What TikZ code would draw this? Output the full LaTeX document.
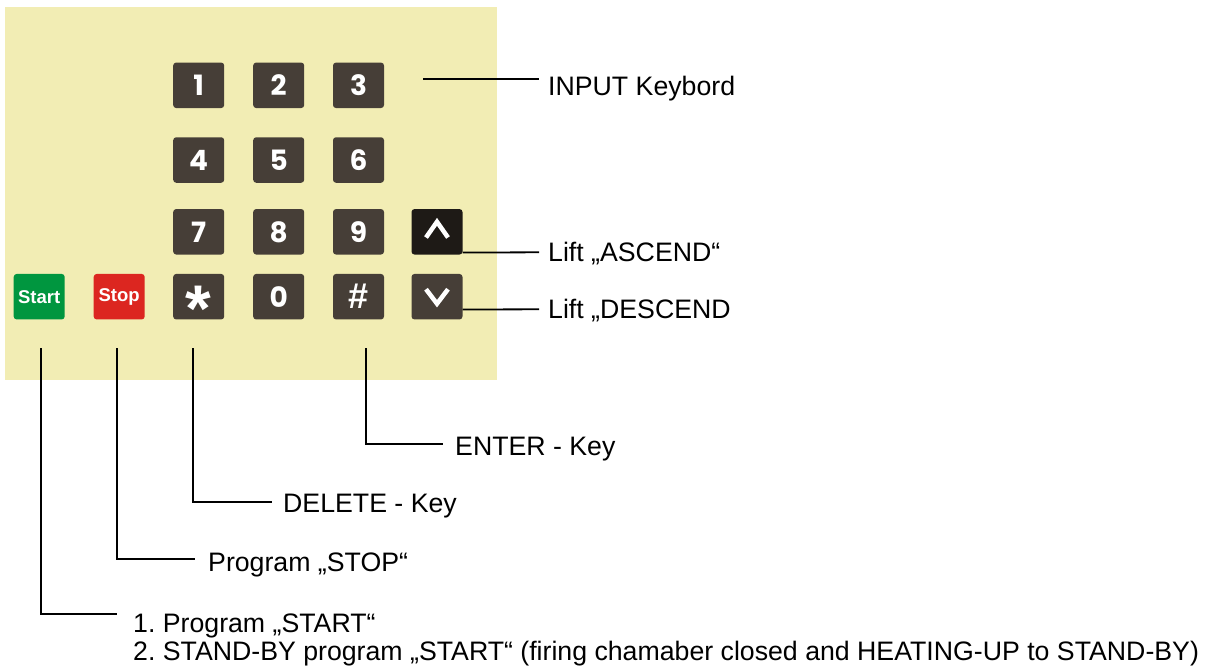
\documentclass[tikz,border=0pt]{standalone}
\usepackage{fontspec}
\setmainfont{Liberation Sans}
\newfontfamily\keyfont{Poppins}
\definecolor{panel}{HTML}{F2EDB4}
\definecolor{keybrown}{HTML}{463E37}
\definecolor{keyblack}{HTML}{1E1A16}
\definecolor{startgreen}{HTML}{00963F}
\definecolor{stopred}{HTML}{DC2620}
\frenchspacing
\begin{document}
\begin{tikzpicture}[x=1pt,y=-1pt,
    key/.style={fill=keybrown,rounded corners=3pt,minimum width=51pt,minimum height=45.5pt,inner sep=0pt,text=white,font=\keyfont\bfseries\fontsize{28}{28}\selectfont},
    lbl/.style={anchor=west,inner sep=0pt,text height=19.1pt,text depth=0pt,font=\fontsize{26.7}{28.4}\selectfont},
    chev/.style={white,line width=4.5pt},
    lead/.style={line width=1.8pt}]
  \useasboundingbox (0,0) rectangle (1211,670);
  \fill[panel] (5,7) rectangle (497,380);
  \foreach \n/\x/\y in {1/198.7/85.3,2/278.7/85.3,3/358.5/85.3,4/198.7/160,5/278.7/160,6/358.5/160,7/198.7/231.8,8/278.7/231.8,9/358.5/231.8}
    \node[key] (k\n) at (\x,\y) {\n};
  \node[key] (k0) at (278.7,296.7) {0};
  \node[key] (kStar) at (198.7,296.7) {\rmfamily\bfseries\fontsize{66}{66}\selectfont\raisebox{-.53em}[0pt][0pt]{*}};
  \node[key] (kHash) at (358.5,296.7) {\rmfamily\bfseries\fontsize{36}{36}\selectfont\#};
  \node[key,fill=startgreen,font=\bfseries\fontsize{18.5}{18.5}\selectfont] (kStart) at (39.2,296.7) {Start};
  \node[key,fill=stopred,font=\bfseries\fontsize{18.5}{18.5}\selectfont] (kStop) at (119.2,296.7) {Stop};
  \node[key,fill=keyblack] (kUp) at (437,231.8) {};
  \node[key] (kDown) at (437,296.7) {};
  \draw[chev] ([shift={(-11,5.7)}]kUp.center) -- ([shift={(0,-10)}]kUp.center) -- ([shift={(11,5.7)}]kUp.center);
  \draw[chev] ([shift={(-11,-7.5)}]kDown.center) -- ([shift={(0,7)}]kDown.center) -- ([shift={(11,-7.5)}]kDown.center);

  \coordinate (cInput) at (423,79.3);
  \node[lbl] (lInput) at (548,86.3) {INPUT Keybord};
  \draw[lead] (cInput) -- ([xshift=-9pt]cInput -| lInput.west);
  \node[lbl] (lAsc) at (548,252.3) {Lift „ASCEND“};
  \draw[lead] ([yshift=2.2pt]kUp.south east) -- ([xshift=-9pt]lAsc.west);
  \node[lbl] (lDesc) at (548,309.3) {Lift „DESCEND};
  \draw[lead] ([yshift=10.15pt]kDown.south east) -- ([xshift=-9pt]lDesc.west);

  \coordinate (dEnter) at (366,348);
  \coordinate (dDel) at (193.3,348);
  \coordinate (dStop) at (116.7,348);
  \coordinate (dStart) at (40.7,348);
  \node[lbl] (lEnter) at (455,446) {ENTER - Key};
  \node[lbl] (lDel) at (283,502.5) {DELETE - Key};
  \node[lbl] (lStop) at (208,562) {Program „STOP“};
  \node[anchor=north west,inner sep=0pt,align=left,font=\fontsize{26.7}{28.4}\selectfont] (lStart) at (133,613.6)
    {1. Program „START“\\2. STAND-BY program „START“ (firing chamaber closed and HEATING-UP to STAND-BY)};
  \draw[lead] (dEnter) |- ([xshift=-12.3pt,yshift=2pt]lEnter.west);
  \draw[lead] (dDel) |- ([xshift=-11.3pt,yshift=0.8pt]lDel.west);
  \draw[lead] (dStop) |- ([xshift=-13pt,yshift=2.7pt]lStop.west);
  \draw[lead] (dStart) |- ([xshift=-16pt]lStart.north west);
\end{tikzpicture}
\end{document}
